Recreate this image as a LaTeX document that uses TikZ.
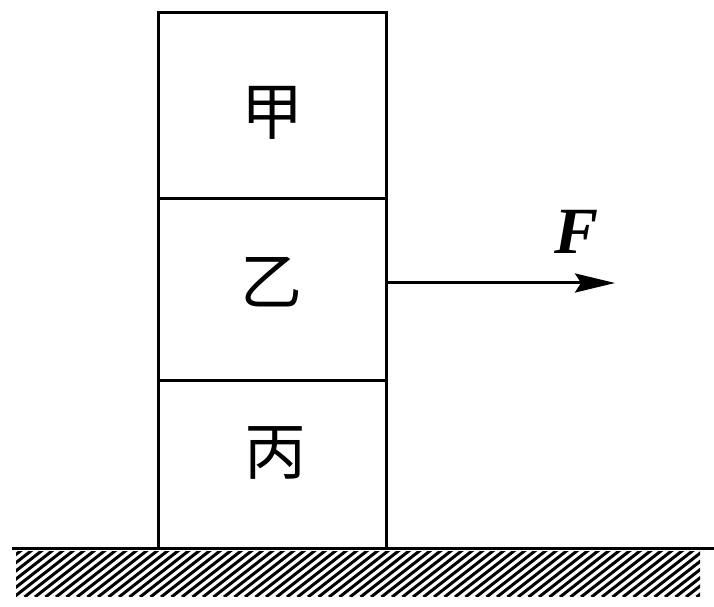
\documentclass[tikz,border=0pt]{standalone}
\usepackage{fontspec}
\setmainfont{Liberation Serif}
\newfontfamily\cjk{Noto Sans CJK SC}
\usepackage{tikz}
\usetikzlibrary{positioning}
\usetikzlibrary{arrows.meta}

\tikzset{block/.style={draw,line width=3pt,minimum width=228pt,inner sep=0pt},
hanzi/.style={font=\cjk\fontsize{62}{62}\selectfont}}

\begin{document}
\begin{tikzpicture}[x=1pt,y=1pt]
\useasboundingbox (0,0) rectangle (714,607);
\node[block,minimum height=186pt] (jia) at (272,501) {};
\node[block,minimum height=182pt] (yi) at (272,317) {};
\node[block,minimum height=168pt] (bing) at (272,142) {};
\node[hanzi] (jiatext) at (272,494) {甲};
\node[hanzi] (yitext) at (271,325) {乙};
\node[hanzi] (bingtext) at (275,154) {丙};
\coordinate (tip) at (615,324);
\draw[line width=3pt,-{Stealth[length=40pt,width=19pt,inset=6pt]}] ([yshift=7pt]yi.east) -- (tip);
\node (force) at (577,375) {\fontsize{66}{66}\selectfont\bfseries\itshape F};
\draw[line width=3pt] (12,58) -- (714,58);
\begin{scope}
\clip (16,10) rectangle (700,55);
\foreach \x in {-70,-59.5,...,700}
\draw[line width=3pt] (\x,10) -- ++(38:80);
\end{scope}
\end{tikzpicture}
\end{document}
